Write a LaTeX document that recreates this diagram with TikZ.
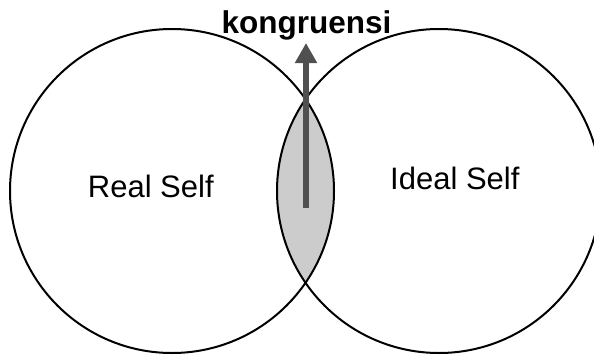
\documentclass[tikz,border=0pt]{standalone}
\usepackage{fontspec}
\setmainfont{Liberation Sans}
\usetikzlibrary{arrows.meta}
\definecolor{lensgray}{HTML}{CCCCCC}
\definecolor{arrowgray}{HTML}{505050}
\begin{document}
\begin{tikzpicture}[x=1pt,y=-1pt,
  selfcircle/.style={circle,draw=black,line width=2pt,minimum size=324pt,inner sep=0pt},
  lbl/.style={inner sep=0pt,font=\fontsize{31}{31}\selectfont},
  upperarrow/.style={draw=arrowgray,line width=6pt,-{Triangle[width=21pt,length=20pt]}}]
\useasboundingbox (0,0) rectangle (594,356);
% lens
\begin{scope}
  \clip (172,191) circle (162);
  \fill[lensgray] (439,191) circle (162);
\end{scope}
\node[selfcircle] (real) at (172,191) {};
\node[selfcircle] (ideal) at (439,191) {};
\node[lbl,anchor=base west] (rl) at (87.7,197.3) {Real Self};
\node[lbl,anchor=base west] (il) at (390,189) {Ideal Self};
\node[inner sep=0pt,anchor=base,font=\fontsize{31.5}{31.5}\selectfont\bfseries] (kong) at (306.5,33) {kongruensi};
\coordinate (abot) at (306,208);
\coordinate (atop) at (306,43);
\draw[upperarrow] (abot) -- (atop);
\end{tikzpicture}
\end{document}
